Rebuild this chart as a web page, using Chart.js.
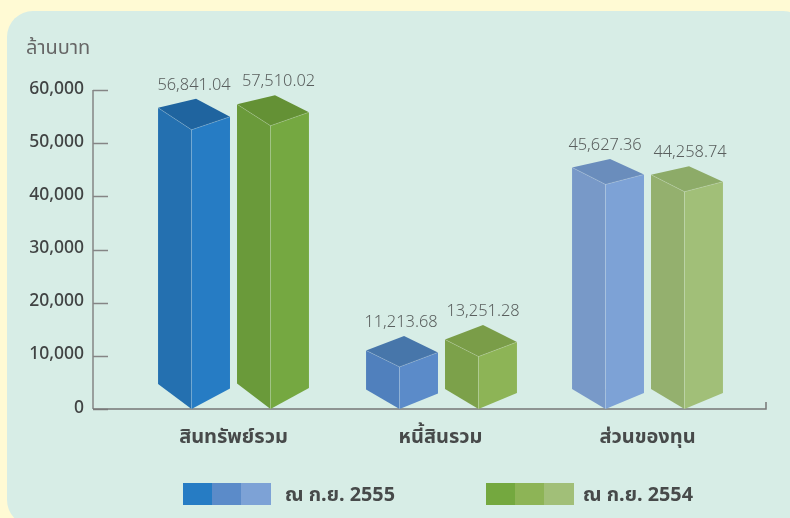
<!DOCTYPE html>
<html><head><meta charset="utf-8">
<style>
html,body{margin:0;padding:0;width:790px;height:518px;overflow:hidden;background:#fffad4}
#plate{position:absolute;left:7px;top:11px;width:802px;height:515px;background:#d7ede6;border-radius:26px}
canvas{position:absolute;left:0;top:0}
</style>
<script src="https://cdn.jsdelivr.net/npm/chart.js@4"></script>
</head><body>
<div id="plate"></div>
<div style="position:absolute;left:0;top:0;width:790px;height:518px"><canvas id="c" width="790" height="518"></canvas></div>
<script>
const categories = ['สินทรัพย์รวม', 'หนี้สินรวม', 'ส่วนของทุน'];
const series2555 = [56841.04, 11213.68, 45627.36];
const series2554 = [57510.02, 13251.28, 44258.74];
const seriesNames = ['ณ ก.ย. 2555', 'ณ ก.ย. 2554'];
const yTicks = [0, 10000, 20000, 30000, 40000, 50000, 60000];
const unitLabel = 'ล้านบาท';

const FONT = '"Noto Sans Thai","Noto Sans","DejaVu Sans",sans-serif';
const palette = [
  [{l:'#2470b0',r:'#267cc4',t:'#1f649f'},{l:'#5080bd',r:'#5b8bc9',t:'#4776aa'},{l:'#7899c8',r:'#7da2d6',t:'#6a8dbc'}],
  [{l:'#6a9a3a',r:'#75a841',t:'#649135'},{l:'#7ca14a',r:'#8db456',t:'#7a9d48'},{l:'#94b06e',r:'#a1bf78',t:'#8dab68'}]
];
const legendColors = [['#267cc4','#5b8bc9','#7da2d6'],['#74a83f','#8db456','#a1bf78']];
// perspective of each box, relative to the bar the library lays out
const shape = [
  [{ll:25,rr:20.5,fd:22,br:9,rd:9,lx:0,dx:0},{ll:19.5,rr:15.5,fd:16.5,br:14.5,rd:2,lx:-1,dx:1},{ll:20,rr:16,fd:17,br:8.5,rd:7,lx:-3,dx:0}],
  [{ll:25.5,rr:21,fd:21.5,br:9,rd:8,lx:5.5,dx:0},{ll:20,rr:16,fd:17,br:14.5,rd:2.5,lx:2,dx:1},{ll:20,rr:16,fd:17,br:8.5,rd:7,lx:3,dx:0}]
];
const axisLeft = 93, axisRight = 766;

function poly(ctx, pts, fill){
  ctx.beginPath();
  pts.forEach((p,i)=> i ? ctx.lineTo(p[0],p[1]) : ctx.moveTo(p[0],p[1]));
  ctx.closePath();
  ctx.fillStyle = fill; ctx.fill();
}
function seg(ctx,a,b,c){
  ctx.beginPath();ctx.moveTo(a[0],a[1]);ctx.lineTo(b[0],b[1]);ctx.strokeStyle=c;ctx.lineWidth=.7;ctx.stroke();
}
const box3d = {
  id:'box3d',
  afterDatasetsDraw(chart){
    const ctx = chart.ctx, y = chart.scales.y;
    const zero = y.getPixelForValue(0), top = y.getPixelForValue(60000);
    ctx.save();
    // axes: the line extends past the category band, ticks point inward
    ctx.strokeStyle = '#858585'; ctx.lineWidth = 1.5;
    ctx.beginPath();ctx.moveTo(axisLeft,top);ctx.lineTo(axisLeft,zero);ctx.stroke();
    yTicks.forEach(v=>{
      const p = Math.round(y.getPixelForValue(v))+.5;
      ctx.beginPath();ctx.moveTo(axisLeft,p);ctx.lineTo(axisLeft+15,p);ctx.stroke();
    });
    ctx.strokeStyle = '#777';
    ctx.beginPath();ctx.moveTo(axisLeft,zero);ctx.lineTo(axisRight,zero);ctx.lineTo(axisRight,zero-7);ctx.stroke();

    chart.data.datasets.forEach((ds,d)=>{
      chart.getDatasetMeta(d).data.forEach((bar,i)=>{
        const s = shape[d][i], c = palette[d][i];
        const L = bar.x+s.dx-bar.width/2, R = bar.x+s.dx+bar.width/2, F = L+33.5, B = L+38;
        const T = bar.y+1, Z = bar.base;
        const leftTop=[L,T], frontTop=[F,T+s.fd], rightTop=[R,T+s.rd], backTop=[B,T-s.br];
        const leftBot=[L,Z-s.ll], frontBot=[F,Z], rightBot=[R,Z-s.rr];
        poly(ctx,[leftTop,frontTop,frontBot,leftBot],c.l);
        poly(ctx,[frontTop,rightTop,rightBot,frontBot],c.r);
        poly(ctx,[leftTop,backTop,rightTop,frontTop],c.t);
        const edge='rgba(255,255,255,.28)';
        seg(ctx,leftTop,frontTop,edge);seg(ctx,frontTop,rightTop,edge);seg(ctx,frontTop,frontBot,edge);
        ctx.font = '300 16.4px '+FONT;
        ctx.fillStyle = '#5a5f5e';
        ctx.textAlign='center';ctx.textBaseline='middle';
        ctx.fillText(ds.data[i].toLocaleString('en-US',{minimumFractionDigits:2,maximumFractionDigits:2}), bar.x+s.dx+s.lx, T-s.br-12.5);
      });
    });

    // unit label
    ctx.font = '20px '+FONT; ctx.fillStyle='#666';
    ctx.textAlign='left';ctx.textBaseline='middle';
    ctx.fillText(unitLabel,26,50);

    // legend
    [[183,285],[486,583]].forEach((pos,d)=>{
      legendColors[d].forEach((col,k)=>{
        ctx.fillStyle=col;ctx.fillRect(pos[0]+k*29,483,k===2?30:29,22);
      });
      ctx.font='bold 19.8px '+FONT;ctx.fillStyle='#474a4a';
      ctx.textAlign='left';ctx.textBaseline='middle';
      ctx.fillText(seriesNames[d],pos[1],497);
    });
    ctx.restore();
  }
};

new Chart(document.getElementById('c'),{
  type:'bar',
  plugins:[box3d],
  data:{labels:categories,datasets:[
    {label:seriesNames[0],data:series2555,backgroundColor:'rgba(0,0,0,0)',categoryPercentage:.763,barPercentage:.911},
    {label:seriesNames[1],data:series2554,backgroundColor:'rgba(0,0,0,0)',categoryPercentage:.763,barPercentage:.911}
  ]},
  options:{
    responsive:false,animation:false,
    layout:{padding:{top:90,right:39,left:0,bottom:0}},
    plugins:{legend:{display:false},tooltip:{enabled:false},title:{display:false}},
    scales:{
      x:{
        type:'category',
        afterFit(s){s.height=109;},
        grid:{display:false,drawTicks:false},
        border:{display:false},
        ticks:{padding:18,maxRotation:0,autoSkip:false,color:'#474a4a',font:{family:FONT,size:20,weight:'bold'}}
      },
      y:{
        min:0,max:60000,
        afterFit(s){s.width=130;},
        afterBuildTicks(s){s.ticks=yTicks.map(v=>({value:v}));},
        grid:{display:false,drawTicks:false},
        border:{display:false},
        ticks:{padding:46,color:'#404343',font:{family:FONT,size:17.5,weight:500},callback:v=>v.toLocaleString('en-US')}
      }
    }
  }
});
</script>
</body></html>
